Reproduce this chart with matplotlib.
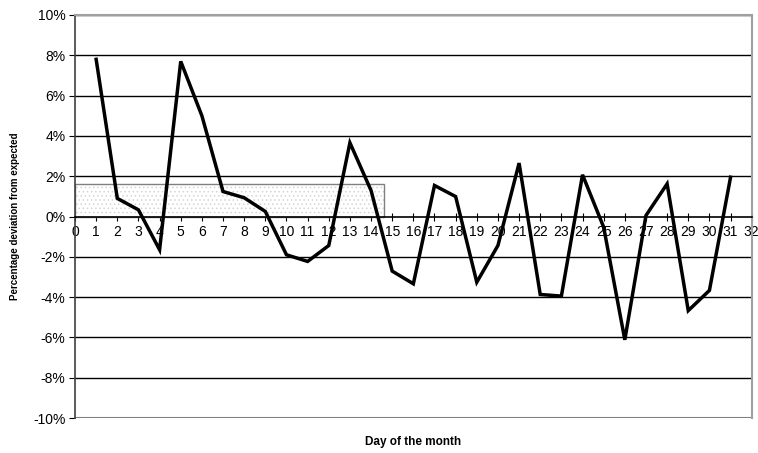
import numpy as np
import matplotlib.pyplot as plt
from matplotlib.ticker import FuncFormatter

plt.rcParams['font.family'] = ['Liberation Sans', 'DejaVu Sans']
plt.rcParams['hatch.linewidth'] = 0.6

# Data (percentage deviation from expected, by day)
days = list(range(1, 32))
deviation = [7.8, 0.9, 0.33, -1.65, 7.7, 5.0, 1.24, 0.93, 0.25, -1.9,
             -2.23, -1.44, 3.66, 1.29, -2.71, -3.34, 1.54, 0.99, -3.26, -1.44,
             2.65, -3.87, -3.95, 2.07, -0.53, -6.12, 0.05, 1.62, -4.67, -3.67,
             1.95]
band_end = 14.6
band_height = 1.6
y_ticks = list(range(-10, 11, 2))
x_ticks = list(range(0, 33))


def main():
    fig = plt.figure(figsize=(7.58, 4.53), dpi=100)
    ax = fig.add_axes([75 / 758, 1 - 418 / 453, (751.7 - 75) / 758, (418 - 15) / 453])

    # shaded band: light dotted fill, then a grey outline on top
    ax.bar(0, band_height, width=band_end, align='edge', facecolor='white',
           edgecolor='#d4d4d4', linewidth=0, hatch='....', zorder=2)
    ax.bar(0, band_height, width=band_end, align='edge', facecolor='none',
           edgecolor='#808080', linewidth=1.0, zorder=2)

    for y in y_ticks:
        if y in (-10, 0):
            continue
        ax.axhline(y, color='black', linewidth=1.0, zorder=1)
    ax.axhline(-10, color='#808080', linewidth=1.5, zorder=1)

    ax.plot(days, deviation, color='black', linewidth=2.5, zorder=4,
            solid_joinstyle='miter')

    ax.set_xlim(0, 32)
    ax.set_ylim(-10, 10)
    ax.set_xticks(x_ticks)
    ax.set_yticks(y_ticks)
    ax.yaxis.set_major_formatter(FuncFormatter(lambda v, p: f"{v:.0f}%"))

    ax.spines['bottom'].set_position(('data', 0))
    ax.spines['bottom'].set_zorder(3)
    ax.spines['bottom'].set_linewidth(1.2)
    ax.spines['left'].set_color('#404040')
    ax.spines['left'].set_linewidth(1.2)
    ax.spines['top'].set_color('#a0a0a0')
    ax.spines['top'].set_linewidth(1.5)
    ax.spines['right'].set_color('#a0a0a0')
    ax.spines['right'].set_linewidth(1.5)

    ax.tick_params(axis='x', direction='inout', length=6, labelsize=10, pad=3)
    ax.tick_params(axis='y', direction='out', length=4, labelsize=10, pad=3)
    for lbl in ax.get_xticklabels():
        lbl.set_zorder(5)

    ax.set_ylabel("Percentage deviation from expected", fontsize=7,
                  fontweight='bold', labelpad=9)
    fig.text((75 + 751.7) / 2 / 758, 1 - 442 / 453, "Day of the month",
             ha='center', va='center', fontsize=8.5, fontweight='bold')

    fig.savefig("out.png", dpi=100)


if __name__ == "__main__":
    main()
